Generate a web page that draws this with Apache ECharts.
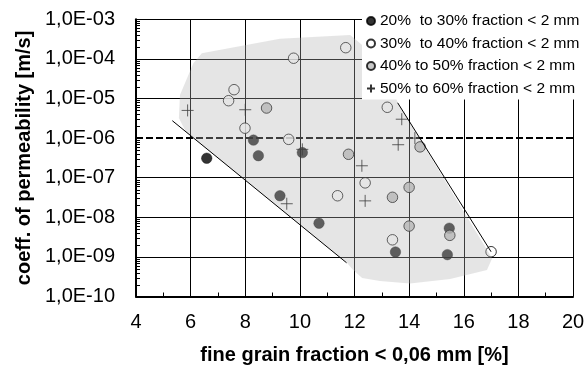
<!DOCTYPE html>
<html>
<head>
<meta charset="utf-8">
<script src="https://cdn.jsdelivr.net/npm/echarts@6/dist/echarts.min.js"></script>
<style>
  html, body { margin: 0; padding: 0; background: #fff; }
  #chart { width: 584px; height: 367px; }
</style>
</head>
<body>
<div id="chart"></div>
<script>
// Fine grain fraction < 0,06 mm [%] against coefficient of permeability [m/s],
// grouped by the fraction < 2 mm.
const seriesNames = [
  '20%  to 30% fraction < 2 mm',
  '30%  to 40% fraction < 2 mm',
  '40% to 50% fraction < 2 mm',
  '50% to 60% fraction < 2 mm'
];

const fines20to30 = [6.59, 8.30, 8.48, 10.09, 9.27, 10.70, 13.50, 15.47, 15.40];
const perm20to30  = [3.1e-7, 8.9e-7, 3.6e-7, 4.3e-7, 3.5e-8, 7.1e-9, 1.33e-9, 5.3e-9, 1.14e-9];

const fines30to40 = [11.68, 9.77, 7.59, 7.39, 7.99, 9.59, 13.20, 12.39, 11.38, 13.39, 17.00];
const perm30to40  = [1.92e-4, 1.04e-4, 1.67e-5, 8.8e-6, 1.78e-6, 9.3e-7, 6.0e-6, 7.4e-8, 3.5e-8, 2.7e-9, 1.35e-9];

const fines40to50 = [8.78, 11.78, 14.40, 14.00, 13.39, 14.00, 15.49];
const perm40to50  = [5.75e-6, 3.9e-7, 6.0e-7, 5.7e-8, 3.2e-8, 6.0e-9, 3.5e-9];

const fines50to60 = [5.89, 8.00, 10.09, 12.27, 12.39, 9.52, 13.73, 13.60, 14.21];
const perm50to60  = [5.0e-6, 5.2e-6, 5.2e-7, 2.0e-7, 2.6e-8, 2.2e-8, 3.0e-6, 6.8e-7, 1.0e-6];

// Axis ticks
const xTicks = [4, 6, 8, 10, 12, 14, 16, 18, 20];
const yTickLabels = ['1,0E-10', '1,0E-09', '1,0E-08', '1,0E-07', '1,0E-06', '1,0E-05', '1,0E-04', '1,0E-03'];

// Limit value of permeability
const limitPerm = 1.0e-6;

// Bounding lines of the data cloud
const lowerLineFines = [5.33, 11.71];
const lowerLinePerm  = [2.75e-6, 7.1e-10];
const upperLineFines = [13.58, 17.00];
const upperLinePerm  = [7.8e-6, 1.35e-9];

// Outline of the shaded range
const zoneFines = [5.61, 5.57, 5.83, 11.73, 11.95, 12.28, 12.93, 14.03, 15.50, 16.85, 17.04, 13.58, 13.30, 12.28, 11.84, 9.27, 6.41, 6.10];
const zonePerm  = [1.23e-5, 3.2e-6, 1.43e-6, 7.0e-10, 4.7e-10, 2.95e-10, 2.45e-10, 2.14e-10, 2.75e-10, 4.7e-10, 9.3e-10, 7.8e-6, 2.95e-5, 2.24e-4, 4.0e-4, 3.24e-4, 1.38e-4, 7.8e-5];

const FONT = '"Liberation Sans", Arial, sans-serif';
const zip = (xs, ys) => xs.map((x, i) => [x, ys[i]]);
const plusPath = 'path://M6,0 L6,12 M0,6 L12,6';

// Logarithmic minor tick positions (2..9 per decade)
const minorTickValues = [];
for (let e = -10; e < -3; e++) {
  for (let m = 2; m <= 9; m++) minorTickValues.push([xTicks[0], m * Math.pow(10, e)]);
}

const zonePoints = zip(zoneFines, zonePerm);

const chart = echarts.init(document.getElementById('chart'), null, { renderer: 'canvas' });

const option = {
  animation: false,
  backgroundColor: '#fff',
  grid: { left: 136, right: 11, top: 19.3, bottom: 70.5, containLabel: false, outerBoundsMode: 'none' },
  legend: {
    data: [
      { name: seriesNames[0], icon: 'circle' },
      { name: seriesNames[1], icon: 'circle' },
      { name: seriesNames[2], icon: 'circle' },
      { name: seriesNames[3], icon: plusPath }
    ],
    orient: 'vertical',
    left: 362,
    top: 0,
    padding: [13, 12, 3, 4],
    itemGap: 6.5,
    itemWidth: 8,
    itemHeight: 8,
    backgroundColor: '#fff',
    selectedMode: false,
    z: 10,
    textStyle: { fontFamily: FONT, fontSize: 15.5, color: '#000' }
  },
  xAxis: {
    type: 'value',
    min: xTicks[0],
    max: xTicks[xTicks.length - 1],
    interval: 2,
    name: 'fine grain fraction < 0,06 mm [%]',
    nameLocation: 'middle',
    nameGap: 49,
    nameTextStyle: { fontFamily: FONT, fontSize: 20, fontWeight: 'bold', color: '#000' },
    axisLine: { show: true, onZero: false, lineStyle: { color: '#000', width: 2 } },
    axisTick: { show: true, inside: true, length: 5, lineStyle: { color: '#000', width: 1 } },
    minorTick: { show: true, splitNumber: 2, length: 4, lineStyle: { color: '#000', width: 1 } },
    splitLine: { show: true, lineStyle: { color: '#000', width: 1 } },
    axisLabel: { fontFamily: FONT, fontSize: 20, color: '#000', margin: 16 }
  },
  yAxis: {
    type: 'log',
    logBase: 10,
    min: 1e-10,
    max: 1e-3,
    splitNumber: 7,
    name: 'coeff. of permeability [m/s]',
    nameLocation: 'middle',
    nameGap: 93,
    nameTextStyle: { fontFamily: FONT, fontSize: 20, fontWeight: 'bold', color: '#000' },
    axisLine: { show: true, lineStyle: { color: '#000', width: 2 } },
    axisTick: { show: true, inside: true, length: 5, lineStyle: { color: '#000', width: 1 } },
    splitLine: {
      show: true,
      lineStyle: {
        width: 1,
        color: yTickLabels.map((_, i) => (i === 4 ? 'rgba(0,0,0,0)' : '#000'))
      }
    },
    axisLabel: {
      fontFamily: FONT, fontSize: 20, color: '#000', margin: 21,
      formatter: (v) => yTickLabels[Math.round(Math.log10(v)) + 10] || ''
    }
  },
  series: [
    {
      name: 'minorTicks',
      type: 'custom',
      z: 2,
      silent: true,
      clip: false,
      data: minorTickValues,
      renderItem: (params, api) => {
        const p = api.coord([api.value(0), api.value(1)]);
        const y = Math.round(p[1]) + 0.5;
        return {
          type: 'line',
          shape: { x1: p[0], y1: y, x2: p[0] + 4, y2: y },
          style: { stroke: '#000', lineWidth: 1 }
        };
      }
    },
    {
      name: 'limit',
      type: 'line',
      z: 2,
      silent: true,
      symbol: 'none',
      data: [[xTicks[0], limitPerm], [xTicks[xTicks.length - 1], limitPerm]],
      lineStyle: { color: '#000', width: 2, type: [7, 3] }
    },
    {
      name: seriesNames[0],
      type: 'scatter',
      z: 2,
      symbol: 'circle',
      symbolSize: 10.5,
      data: zip(fines20to30, perm20to30),
      itemStyle: { color: '#000', borderColor: '#000', borderWidth: 0.5 }
    },
    {
      name: seriesNames[1],
      type: 'scatter',
      z: 2,
      symbol: 'circle',
      symbolSize: 10.5,
      data: zip(fines30to40, perm30to40),
      itemStyle: { color: '#fff', borderColor: '#000', borderWidth: 1 }
    },
    {
      name: seriesNames[2],
      type: 'scatter',
      z: 2,
      symbol: 'circle',
      symbolSize: 10.5,
      data: zip(fines40to50, perm40to50),
      itemStyle: { color: '#b9b9b9', borderColor: '#000', borderWidth: 1 }
    },
    {
      name: seriesNames[3],
      type: 'scatter',
      z: 2,
      symbol: plusPath,
      symbolSize: 12,
      data: zip(fines50to60, perm50to60),
      itemStyle: { color: 'rgba(0,0,0,0)', borderColor: '#000', borderWidth: 1 }
    },
    {
      name: 'zone',
      type: 'custom',
      z: 3,
      silent: true,
      data: zonePoints,
      renderItem: (params, api) => {
        if (params.dataIndex !== 0) return null;
        const pts = zonePoints.map((p) => api.coord(p));
        return {
          type: 'polygon',
          shape: { points: pts },
          style: { fill: 'rgba(180,180,180,0.34)', stroke: null }
        };
      }
    },
    {
      name: 'lowerLine',
      type: 'line',
      z: 4,
      silent: true,
      symbol: 'none',
      data: zip(lowerLineFines, lowerLinePerm),
      lineStyle: { color: '#000', width: 1 }
    },
    {
      name: 'upperLine',
      type: 'line',
      z: 4,
      silent: true,
      symbol: 'none',
      data: zip(upperLineFines, upperLinePerm),
      lineStyle: { color: '#000', width: 1 }
    }
  ]
};

chart.setOption(option);
</script>
</body>
</html>
